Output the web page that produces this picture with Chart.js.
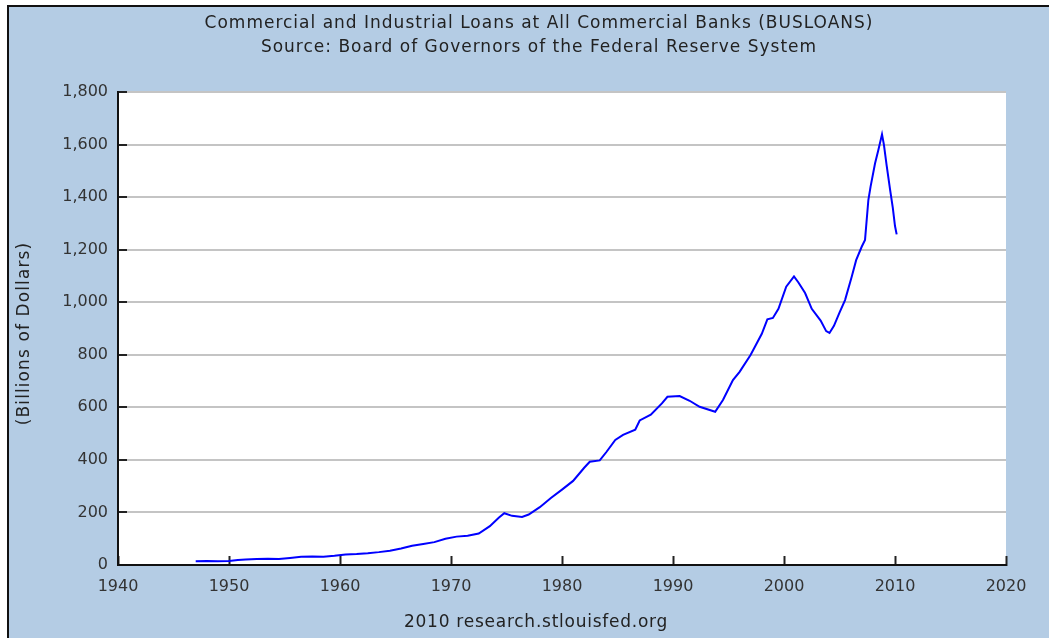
<!DOCTYPE html>
<html>
<head>
<meta charset="utf-8">
<script src="https://cdn.jsdelivr.net/npm/chart.js@4.4.0/dist/chart.umd.min.js"></script>
<style>
  body { margin: 0; background: #fff; }
  #wrap { width: 1050px; height: 638px; }
</style>
</head>
<body>
<div id="wrap"><canvas id="loansChart" width="1050" height="638"></canvas></div>
<script>
const titleLines = [
    'Commercial and Industrial Loans at All Commercial Banks (BUSLOANS)',
    'Source: Board of Governors of the Federal Reserve System'
];
const footerText = '2010 research.stlouisfed.org';
const yAxisLabel = '(Billions of Dollars)';

// decimal year, billions of dollars
const years = [
    1947.0, 1948.0, 1949.0, 1950.0, 1950.8, 1951.5, 1952.5, 1953.5, 1954.5, 1955.5,
    1956.5, 1957.5, 1958.5, 1959.5, 1960.5, 1961.5, 1962.5, 1963.5, 1964.5, 1965.5,
    1966.5, 1967.5, 1968.5, 1969.5, 1970.5, 1971.5, 1972.5, 1973.5, 1974.3, 1974.8,
    1975.5, 1976.4, 1977.0, 1978.0, 1979.0, 1980.0, 1981.0, 1982.0, 1982.5, 1983.4,
    1984.0, 1984.8, 1985.5, 1986.6, 1987.0, 1988.0, 1989.0, 1989.5, 1990.6, 1991.5,
    1992.4, 1993.8, 1994.5, 1995.4, 1996.0, 1997.0, 1998.0, 1998.5, 1999.0, 1999.5,
    2000.2, 2000.9, 2001.3, 2001.9, 2002.5, 2003.3, 2003.8, 2004.1, 2004.5, 2005.0,
    2005.5, 2006.1, 2006.5, 2007.0, 2007.3, 2007.6, 2007.8, 2008.2, 2008.5, 2008.83,
    2009.0, 2009.25, 2009.55, 2009.8, 2010.0, 2010.15
];
const loans = [
    14, 15, 14, 15, 19, 21, 23, 24, 23, 27,
    31, 32, 31, 35, 40, 42, 45, 49, 54, 63,
    73, 80, 87, 100, 108, 111, 120, 148, 180, 197,
    187, 183, 192, 220, 255, 287, 320, 370, 393, 398,
    430, 476, 495, 515, 550, 572, 615, 640, 643, 625,
    602, 583, 628, 704, 735, 800, 880, 935, 940, 975,
    1059, 1098, 1075, 1035, 975, 930, 890, 883, 910, 960,
    1008, 1097, 1160, 1211, 1237, 1389, 1440, 1528, 1579, 1639,
    1600, 1520, 1430, 1360, 1290, 1258
];
const xTicks = [1940, 1950, 1960, 1970, 1980, 1990, 2000, 2010, 2020];
const yTicks = [0, 200, 400, 600, 800, 1000, 1200, 1400, 1600, 1800];

const frame = {
    id: 'frame',
    beforeDraw(chart) {
        const c = chart.ctx;
        const a = chart.chartArea;
        c.save();
        c.fillStyle = '#ffffff';
        c.fillRect(0, 0, chart.width, chart.height);
        c.fillStyle = '#b4cce4';
        c.fillRect(7, 5, 1042, chart.height - 5);
        c.fillStyle = '#111';
        c.fillRect(7, 5, 1042, 2);
        c.fillRect(7, 5, 2, chart.height - 5);
        c.fillStyle = '#ffffff';
        c.fillRect(a.left, a.top, a.right - a.left, a.bottom - a.top);
        c.restore();
    },
    afterDraw(chart) {
        const c = chart.ctx;
        const a = chart.chartArea;
        c.save();
        c.fillStyle = '#222';
        c.font = '17px "DejaVu Sans"';
        c.textAlign = 'center';
        c.textBaseline = 'middle';
        c.letterSpacing = '1px';
        c.fillText(titleLines[0], 539, 24);
        c.fillText(titleLines[1], 539, 48);
        c.letterSpacing = '0.75px';
        c.fillText(footerText, 536, 623);
        // y axis title, rotated
        c.letterSpacing = '1.1px';
        c.translate(25, (a.top + a.bottom) / 2 + 5);
        c.rotate(-Math.PI / 2);
        c.fillText(yAxisLabel, 0, 0);
        c.restore();
    }
};

const ctx = document.getElementById('loansChart').getContext('2d');
new Chart(ctx, {
    type: 'line',
    data: {
        datasets: [{
            data: years.map((yr, i) => ({ x: yr, y: loans[i] })),
            borderColor: '#0000ff',
            borderWidth: 2,
            pointRadius: 0,
            tension: 0,
            fill: false
        }]
    },
    options: {
        responsive: false,
        animation: false,
        layout: { padding: { left: 11, right: 44, top: 92, bottom: 0 } },
        scales: {
            x: {
                type: 'linear',
                min: 1940,
                max: 2020,
                afterBuildTicks: (scale) => { scale.ticks = xTicks.map(v => ({ value: v })); },
                afterFit: (scale) => { scale.height = 73; },
                ticks: {
                    color: '#333',
                    font: { family: 'DejaVu Sans', size: 16 },
                    padding: 21,
                    maxRotation: 0,
                    callback: (v) => String(v)
                },
                grid: {
                    drawOnChartArea: false,
                    tickLength: -9,
                    tickColor: '#222',
                    tickWidth: 2
                },
                border: { color: '#111', width: 2 }
            },
            y: {
                min: 0,
                max: 1800,
                afterBuildTicks: (scale) => { scale.ticks = yTicks.map(v => ({ value: v })); },
                afterFit: (scale) => { scale.width = 107; },
                ticks: {
                    color: '#333',
                    font: { family: 'DejaVu Sans', size: 16 },
                    padding: 19
                },
                grid: {
                    color: '#c4c4c4',
                    lineWidth: 2,
                    tickLength: -9,
                    tickColor: '#222',
                    tickWidth: 2
                },
                border: { color: '#111', width: 2 }
            }
        },
        plugins: {
            legend: { display: false },
            title: { display: false },
            tooltip: { enabled: false }
        }
    },
    plugins: [frame]
});
</script>
</body>
</html>
